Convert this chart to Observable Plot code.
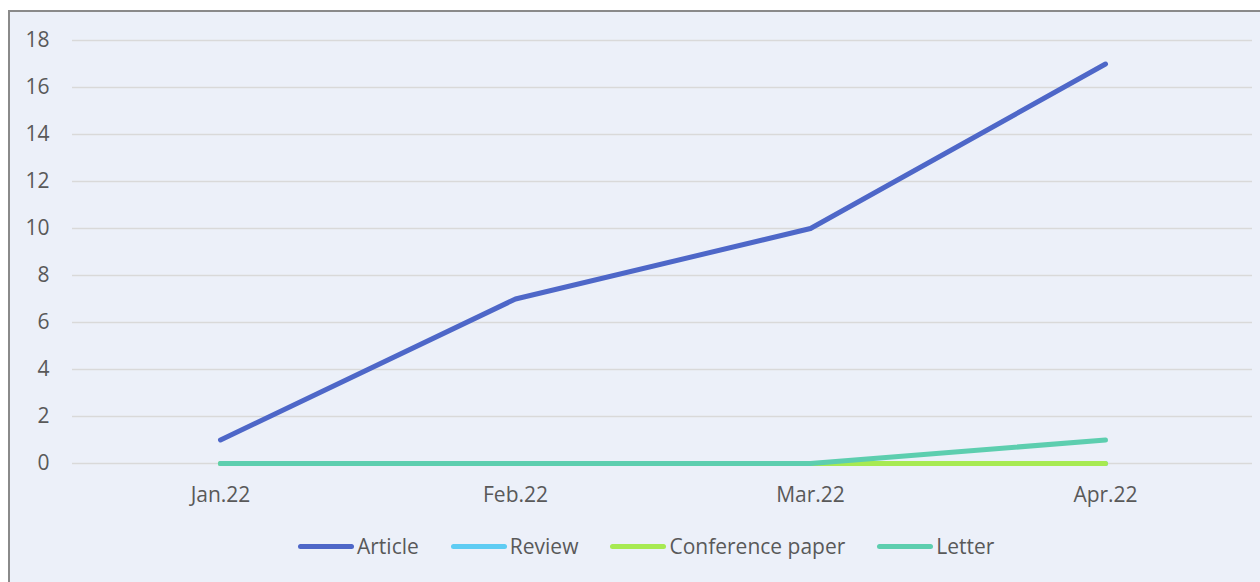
<!DOCTYPE html>
<html><head><meta charset="utf-8">
<script src="https://cdn.jsdelivr.net/npm/d3@7"></script>
<script src="https://cdn.jsdelivr.net/npm/@observablehq/plot@0.6"></script>
<style>
html,body{margin:0;padding:0;background:#fff;width:1260px;height:582px;overflow:hidden;font-family:"Open Sans",sans-serif;}
#frame{position:absolute;left:8px;top:10px;width:1270px;height:600px;border:2px solid #8a8a8a;background:#ECF0F9;box-sizing:border-box;}
#chart{position:absolute;left:0;top:0;}
#legend{position:absolute;left:298px;top:532px;display:flex;align-items:center;font-size:21px;color:#595959;white-space:nowrap;}
.item{display:flex;align-items:center;margin-right:32px;}
.sw{width:56px;height:5px;border-radius:3px;margin-right:3px;}
</style>
</head><body>
<div id="frame"></div>
<div id="chart"></div>
<div id="legend"></div>
<script>
const months = ["Jan.22", "Feb.22", "Mar.22", "Apr.22"];
const seriesNames = ["Article", "Review", "Conference paper", "Letter"];
const article = [1, 7, 10, 17];
const review = [0, 0, 0, 0];
const conference = [0, 0, 0, 0];
const letter = [0, 0, 0, 1];
const colors = ["#4E67C8", "#5ECCF3", "#A7EA52", "#5DCEAF"];
const yTicks = [0, 2, 4, 6, 8, 10, 12, 14, 16, 18];

const values = [article, review, conference, letter];
const rowsFor = (i) => months.map((m, j) => ({month: m, value: values[i][j], series: seriesNames[i]}));

const plot = Plot.plot({
  width: 1260,
  height: 520,
  marginLeft: 72,
  marginRight: 8,
  marginTop: 40,
  marginBottom: 57,
  style: {background: "transparent", color: "#595959", fontSize: "21px", fontFamily: "Open Sans, sans-serif"},
  x: {type: "point", domain: months, padding: 0.5, label: null},
  y: {domain: [0, 18], label: null},
  color: {domain: seriesNames, range: colors},
  marks: [
    Plot.ruleY(yTicks, {stroke: "#D9D9D9", strokeWidth: 1.5}),
    Plot.axisY({ticks: yTicks, tickSize: 0, tickPadding: 23, label: null}),
    Plot.axisX({tickSize: 0, tickPadding: 24, label: null}),
    ...seriesNames.map((s, i) => Plot.line(rowsFor(i), {x: "month", y: "value", stroke: "series", strokeWidth: 5, strokeLinecap: "round", strokeLinejoin: "round"}))
  ]
});
document.getElementById("chart").appendChild(plot);

const legend = document.getElementById("legend");
seriesNames.forEach((s, i) => {
  const it = document.createElement("div");
  it.className = "item";
  const sw = document.createElement("div");
  sw.className = "sw";
  sw.style.background = colors[i];
  const t = document.createElement("span");
  t.textContent = s;
  it.appendChild(sw); it.appendChild(t);
  legend.appendChild(it);
});
</script>
</body></html>
